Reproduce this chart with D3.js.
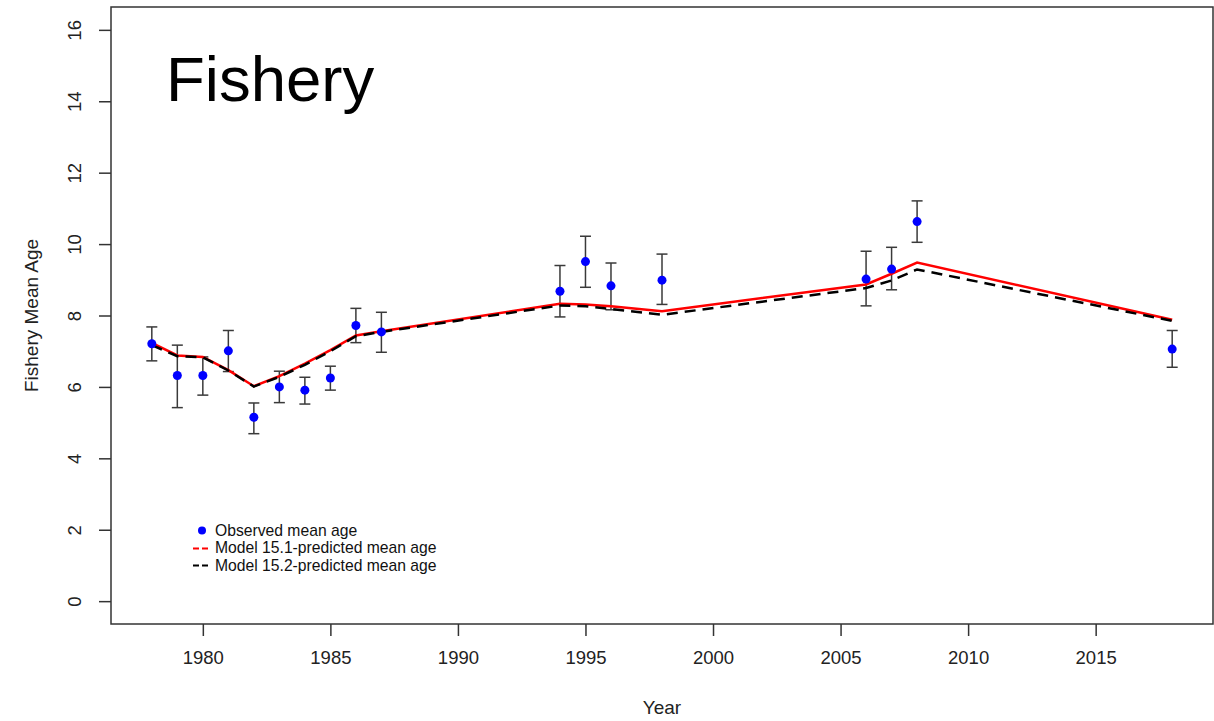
<!DOCTYPE html>
<html lang="en">
<head>
<meta charset="UTF-8">
<title>Fishery Mean Age</title>
<script src="https://d3js.org/d3.v7.min.js"></script>
<style>
  body { margin: 0; background: #fff; font-family: "Liberation Sans", Arial, sans-serif; }
  svg { display: block; }
</style>
</head>
<body>
<svg id="chart" width="1214" height="721"></svg>
<script>
// observed data
const years = [1978, 1979, 1980, 1981, 1982, 1983, 1984, 1985, 1986, 1987,
               1994, 1995, 1996, 1998, 2006, 2007, 2008, 2018];
const observed = [7.21, 6.32, 6.32, 7.01, 5.15, 6.00, 5.91, 6.25, 7.72, 7.54,
                  8.68, 9.51, 8.83, 8.99, 9.02, 9.30, 10.63, 7.06];
const upper = [7.68, 7.17, 6.84, 7.58, 5.55, 6.44, 6.27, 6.58, 8.20, 8.09,
               9.40, 10.22, 9.47, 9.72, 9.80, 9.91, 11.21, 7.58];
const lower = [6.73, 5.42, 5.77, 6.43, 4.69, 5.56, 5.52, 5.91, 7.24, 6.97,
               7.96, 8.79, 8.16, 8.31, 8.27, 8.72, 10.05, 6.55];
// model predictions
const model151 = [7.23, 6.88, 6.84, 6.47, 6.02, 6.30, 6.65, 7.03, 7.44, 7.56,
                  8.33, 8.31, 8.26, 8.12, 8.87, 9.17, 9.48, 7.88];
const model152 = [7.17, 6.86, 6.83, 6.46, 6.01, 6.28, 6.62, 7.00, 7.42, 7.54,
                  8.28, 8.26, 8.18, 8.02, 8.77, 8.98, 9.29, 7.85];
const xTicks = [1980, 1985, 1990, 1995, 2000, 2005, 2010, 2015];
const yTicks = [0, 2, 4, 6, 8, 10, 12, 14, 16];

const svg = d3.select("#chart");
const plotL = 111, plotR = 1213, plotT = 7, plotB = 624;

// R style 4% padding on both axes
const x = d3.scaleLinear().domain([1976.4, 2019.6]).range([plotL, plotR]);
const y = d3.scaleLinear().domain([-0.64, 16.64]).range([plotB, plotT]);

const axisColor = "#333";
const textColor = "#222";

// axes
const xAxis = svg.append("g")
  .attr("transform", `translate(0,${plotB})`)
  .call(d3.axisBottom(x).tickValues(xTicks).tickFormat(d3.format("d")).tickSize(12).tickPadding(10));
const yAxis = svg.append("g")
  .attr("transform", `translate(${plotL},0)`)
  .call(d3.axisLeft(y).tickValues(yTicks).tickSize(12).tickPadding(8));

[xAxis, yAxis].forEach(a => {
  a.select(".domain").remove();
  a.selectAll(".tick line").attr("stroke", axisColor).attr("stroke-width", 1.5);
  a.selectAll(".tick text").attr("fill", textColor)
    .style("font-size", "18.5px").style("font-family", "'Liberation Sans', Arial, sans-serif");
});
xAxis.selectAll(".tick text").attr("dy", "0.95em");
// y tick labels rotated like R's las=0
yAxis.selectAll(".tick text")
  .attr("x", null)
  .attr("text-anchor", "middle")
  .attr("transform", "translate(-36,0) rotate(-90)")
  .attr("dy", "0.35em");

// plot box
svg.append("rect")
  .attr("x", plotL).attr("y", plotT)
  .attr("width", plotR - plotL).attr("height", plotB - plotT)
  .attr("fill", "none").attr("stroke", axisColor).attr("stroke-width", 1.5);

// axis titles
svg.append("text")
  .attr("x", (plotL + plotR) / 2).attr("y", 714)
  .attr("text-anchor", "middle").attr("fill", textColor)
  .style("font-size", "19px").text("Year");
svg.append("text")
  .attr("transform", `translate(38,${(plotT + plotB) / 2}) rotate(-90)`)
  .attr("text-anchor", "middle").attr("fill", textColor)
  .style("font-size", "19px").text("Fishery Mean Age");

// panel title
svg.append("text")
  .attr("x", 166).attr("y", 101)
  .attr("fill", "#000")
  .style("font-size", "63.5px").text("Fishery");

// error bars
const capW = 5.5;
const eb = svg.append("g").attr("stroke", "#3a3a3a").attr("stroke-width", 1.5);
years.forEach((yr, i) => {
  const cx = x(yr);
  eb.append("line").attr("x1", cx).attr("x2", cx).attr("y1", y(lower[i])).attr("y2", y(upper[i]));
  eb.append("line").attr("x1", cx - capW).attr("x2", cx + capW).attr("y1", y(upper[i])).attr("y2", y(upper[i]));
  eb.append("line").attr("x1", cx - capW).attr("x2", cx + capW).attr("y1", y(lower[i])).attr("y2", y(lower[i]));
});

// model lines
const line = d3.line().x(d => x(d[0])).y(d => y(d[1]));
svg.append("path")
  .datum(years.map((yr, i) => [yr, model151[i]]))
  .attr("d", line).attr("fill", "none")
  .attr("stroke", "#ff0000").attr("stroke-width", 2.5);
svg.append("path")
  .datum(years.map((yr, i) => [yr, model152[i]]))
  .attr("d", line).attr("fill", "none")
  .attr("stroke", "#000").attr("stroke-width", 2.5)
  .attr("stroke-dasharray", "11,7");

// observed points
svg.append("g").selectAll("circle")
  .data(years.map((yr, i) => [yr, observed[i]]))
  .join("circle")
  .attr("cx", d => x(d[0])).attr("cy", d => y(d[1]))
  .attr("r", 4.5).attr("fill", "#0000ff");

// legend
const legend = svg.append("g").style("font-size", "15.7px");
const lx = 193, lw = 18, tx = 215;
legend.append("circle").attr("cx", lx + lw / 2).attr("cy", 530.5).attr("r", 4).attr("fill", "#0000ff");
legend.append("line").attr("x1", lx).attr("x2", lx + lw).attr("y1", 548.5).attr("y2", 548.5)
  .attr("stroke", "#ff0000").attr("stroke-width", 2).attr("stroke-dasharray", "6,3");
legend.append("line").attr("x1", lx).attr("x2", lx + lw).attr("y1", 565.5).attr("y2", 565.5)
  .attr("stroke", "#000").attr("stroke-width", 2).attr("stroke-dasharray", "6,3");
const labels = ["Observed mean age", "Model 15.1-predicted mean age", "Model 15.2-predicted mean age"];
labels.forEach((t, i) => {
  legend.append("text").attr("x", tx).attr("y", 530.5 + i * 17.5).attr("dy", "0.35em")
    .attr("fill", "#111").text(t);
});
</script>
</body>
</html>
